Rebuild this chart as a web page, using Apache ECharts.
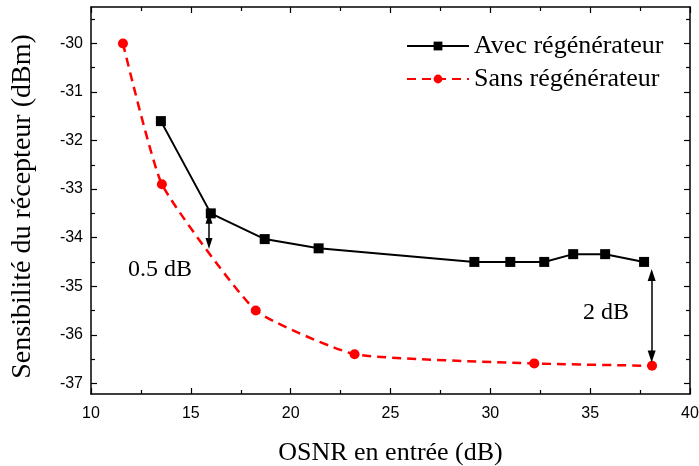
<!DOCTYPE html>
<html>
<head>
<meta charset="utf-8">
<script src="https://cdn.jsdelivr.net/npm/echarts@6.0.0/dist/echarts.min.js"></script>
<style>
  html, body { margin: 0; padding: 0; background: #fff; }
  #chart { width: 699px; height: 466px; }
</style>
</head>
<body>
<div id="chart"></div>
<script>
// OSNR en entrée (dB) vs receiver sensitivity (dBm)
const avecX = [13.5, 16.0, 18.7, 21.4, 29.2, 31.0, 32.7, 34.15, 35.75, 37.7];
const avecY = [-31.6, -33.5, -34.03, -34.22, -34.5, -34.5, -34.5, -34.34, -34.34, -34.5];
const sansX = [11.6, 13.55, 18.25, 23.2, 32.2, 38.1];
const sansY = [-30.0, -32.9, -35.5, -36.4, -36.59, -36.64];

const yMajorTicks = [-37, -36, -35, -34, -33, -32, -31, -30];
const yMinorTicks = [-36.5, -35.5, -34.5, -33.5, -32.5, -31.5, -30.5, -29.5];

// annotation arrows [x, yFrom, yTo] and texts [x, y, text]
const arrows = [[15.91, -33.6, -34.12], [38.08, -34.77, -36.45]];
const notes = [[13.46, -34.67, '0.5 dB'], [35.79, -35.55, '2 dB']];

const serif = "'Liberation Serif', 'Times New Roman', serif";
const sans = "'Liberation Sans', Arial, sans-serif";

const chart = echarts.init(document.getElementById('chart'));

const xCommon = {
  type: 'value', min: 10, max: 40, interval: 5,
  axisLine: { show: true, onZero: false, lineStyle: { color: '#000', width: 1.5 } },
  axisTick: { show: true, inside: true, length: 6, lineStyle: { color: '#000', width: 1.2 } },
  minorTick: { show: true, splitNumber: 2, length: 4, lineStyle: { color: '#000', width: 1.2 } },
  splitLine: { show: false }
};

function yAxisDef(position, ticks, len, withLine, withLabel) {
  return {
    type: 'value', position: position, min: -37.22, max: -29.25,
    axisLine: { show: withLine, onZero: false, lineStyle: { color: '#000', width: 1.5 } },
    axisTick: { show: true, inside: true, length: len, customValues: ticks, lineStyle: { color: '#000', width: 1.2 } },
    axisLabel: withLabel
      ? { show: true, customValues: ticks, color: '#000', fontFamily: sans, fontSize: 16, margin: 8 }
      : { show: false },
    splitLine: { show: false }
  };
}

const yMain = yAxisDef('left', yMajorTicks, 6, true, true);
yMain.name = 'Sensibilité du récepteur (dBm)';
yMain.nameLocation = 'middle';
yMain.nameGap = 54;
yMain.nameTextStyle = { fontFamily: serif, fontSize: 28, color: '#000', padding: [0, 12, 0, 0] };

const option = {
  animation: false,
  backgroundColor: '#fff',
  grid: { left: 91, right: 9, top: 7, bottom: 72, containLabel: false, outerBoundsMode: 'none' },
  legend: {
    data: ['Avec régénérateur', 'Sans régénérateur'],
    orient: 'vertical',
    left: 401, top: 28,
    itemWidth: 62, itemHeight: 11, itemGap: 7,
    textStyle: { fontFamily: serif, fontSize: 26, color: '#000' }
  },
  xAxis: [
    Object.assign({}, xCommon, {
      position: 'bottom',
      axisLabel: { color: '#000', fontFamily: sans, fontSize: 16, margin: 12 },
      name: 'OSNR en entrée (dB)',
      nameLocation: 'middle',
      nameGap: 46,
      nameTextStyle: { fontFamily: serif, fontSize: 26, color: '#000' }
    }),
    Object.assign({}, xCommon, { position: 'top', axisLabel: { show: false } })
  ],
  yAxis: [
    yMain,
    yAxisDef('left', yMinorTicks, 4, false, false),
    yAxisDef('right', yMajorTicks, 6, true, false),
    yAxisDef('right', yMinorTicks, 4, false, false)
  ],
  series: [
    {
      name: 'Avec régénérateur',
      type: 'line',
      data: avecX.map((x, i) => [x, avecY[i]]),
      symbol: 'rect', symbolSize: 10,
      itemStyle: { color: '#000' },
      lineStyle: { color: '#000', width: 2 },
      z: 3
    },
    {
      name: 'Sans régénérateur',
      type: 'line',
      data: sansX.map((x, i) => [x, sansY[i]]),
      smooth: 0.15,
      symbol: 'circle', symbolSize: 10,
      itemStyle: { color: '#ff0000' },
      lineStyle: { color: '#ff0000', width: 2.5, type: [9, 6] },
      z: 2
    },
    {
      name: 'notes',
      type: 'scatter',
      data: notes.map(n => [n[0], n[1], n[2]]),
      symbolSize: 0,
      itemStyle: { opacity: 1 },
      z: 4,
      label: {
        show: true, position: 'inside',
        formatter: p => p.value[2],
        fontFamily: serif, fontSize: 24, color: '#000', opacity: 1
      },
      markLine: {
        silent: true,
        z: 5,
        symbol: ['triangle', 'triangle'],
        lineStyle: { color: '#000', width: 1.5, type: 'solid', opacity: 1 },
        itemStyle: { color: '#000' },
        label: { show: false },
        data: arrows.map((a, i) => [
          { coord: [a[0], a[1]], symbolSize: i === 0 ? [7, 11] : [8, 12] },
          { coord: [a[0], a[2]], symbolSize: i === 0 ? [7, 11] : [8, 12] }
        ])
      }
    }
  ]
};

chart.setOption(option);
</script>
</body>
</html>
